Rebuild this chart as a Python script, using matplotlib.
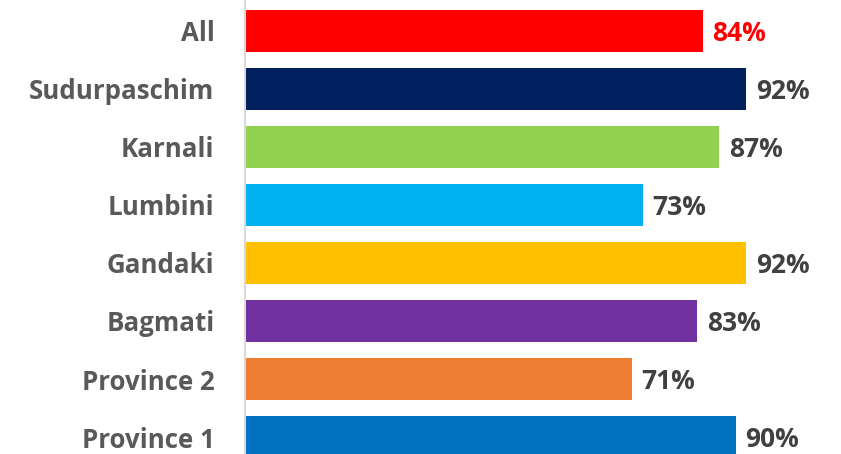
import matplotlib
matplotlib.use("Agg")
import matplotlib.pyplot as plt

provinces = ["Province 1", "Province 2", "Bagmati", "Gandaki", "Lumbini", "Karnali", "Sudurpaschim", "All"]
shares = [90, 71, 83, 92, 73, 87, 92, 84]
bar_colors = ["#0070c0", "#ed7d31", "#7030a0", "#ffc000", "#00b0f0", "#92d050", "#002060", "#ff0000"]

plt.rcParams["font.family"] = ["Open Sans", "DejaVu Sans"]

fig = plt.figure(figsize=(8.41, 4.54), dpi=100)
ax = fig.add_axes([245 / 841, 0, 545 / 841, 1])

pos = list(range(len(provinces)))
ax.barh(pos, shares, height=0.72, color=bar_colors)

# value labels just past the bar end; the overall figure is highlighted in red
for y, v in zip(pos, shares):
    color = "#ff0000" if provinces[y] == "All" else "#404040"
    ax.annotate(f"{v}%", (v, y), xytext=(7, -1.5), textcoords="offset points",
                ha="left", va="center", fontsize=19, fontweight="bold", color=color)

ax.set_xlim(0, 100)
ax.set_ylim(-0.293, 7.534)
ax.set_yticks(pos)
ax.set_yticklabels(provinces, fontsize=18.6, fontweight="bold", color="#595959")
ax.tick_params(axis="y", length=0, pad=22)
ax.set_xticks([])

for side in ["top", "right", "bottom"]:
    ax.spines[side].set_visible(False)
ax.spines["left"].set_color("#d9d9d9")
ax.spines["left"].set_linewidth(1.5)

fig.savefig("out.png", dpi=100)
